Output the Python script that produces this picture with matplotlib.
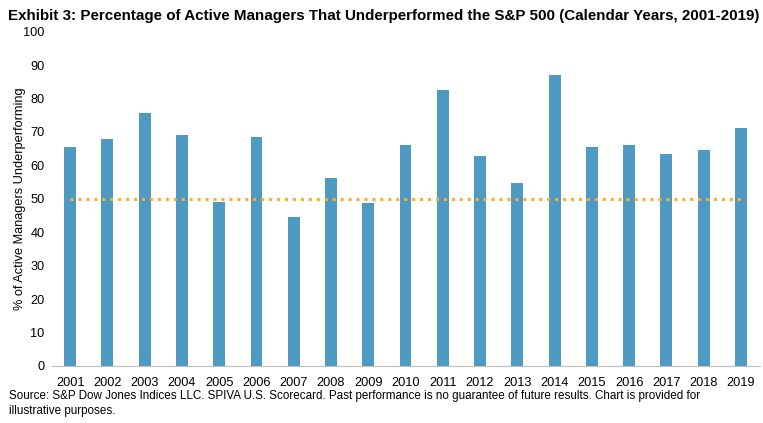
import numpy as np
import matplotlib
matplotlib.use("Agg")
import matplotlib.pyplot as plt

plt.rcParams['font.family'] = ['Liberation Sans', 'DejaVu Sans']

anos = [str(a) for a in range(2001, 2020)]
pct_under = [65.4, 67.8, 75.6, 69.0, 48.9, 68.4, 44.7, 56.2, 48.6, 66.0,
             82.5, 62.7, 54.6, 87.0, 65.4, 66.0, 63.3, 64.5, 71.1]
referencia = 50

fig = plt.figure(figsize=(7.63, 4.23), dpi=100)
ax = fig.add_axes([0.0675, 0.135, 0.928, 0.79])

x = np.arange(len(anos))
ax.bar(x, pct_under, width=0.32, color="#4F9AC2", zorder=2)
ax.plot([x[0], x[-1]], [referencia, referencia], color="#FFB020",
        linestyle=(0, (1, 1.6)), linewidth=2.2, zorder=3)

ax.set_xlim(-0.5, len(anos) - 0.5)
ax.set_ylim(0, 100)
ax.set_yticks(range(0, 101, 10))
ax.set_xticks(x)
ax.set_xticklabels(anos)
ax.tick_params(axis="both", length=0, labelsize=9.2, colors="black")
ax.tick_params(axis="x", pad=8)
ax.tick_params(axis="y", pad=5)
for s in ["top", "right", "left"]:
    ax.spines[s].set_visible(False)
ax.spines["bottom"].set_color("#BFBFBF")
ax.set_ylabel("% of Active Managers Underperforming", fontsize=9.2)
ax.yaxis.set_label_coords(-0.036, 0.5)

fig.text(0.01, 0.962, "Exhibit 3: Percentage of Active Managers That Underperformed "
         "the S&P 500 (Calendar Years, 2001-2019)",
         fontsize=10.9, fontweight="bold", va="center", ha="left")
fig.text(0.012, 0.077, "Source: S&P Dow Jones Indices LLC. SPIVA U.S. Scorecard. Past "
         "performance is no guarantee of future results. Chart is provided for\n"
         "illustrative purposes.", fontsize=8.4, va="top", ha="left",
         linespacing=1.3)

fig.savefig("out.png", dpi=100)
plt.close(fig)
